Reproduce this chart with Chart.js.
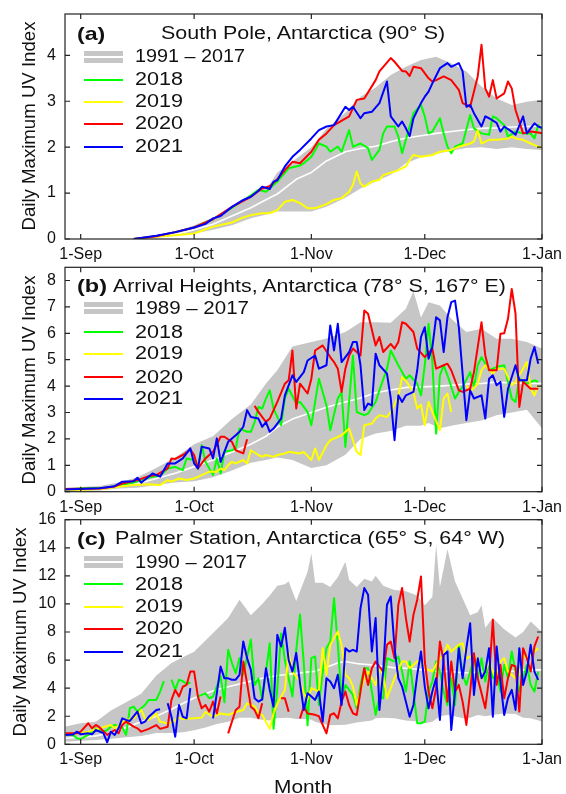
<!DOCTYPE html>
<html lang="en">
<head>
<meta charset="UTF-8">
<title>Daily Maximum UV Index - Antarctica</title>
<script src="https://cdn.jsdelivr.net/npm/chart.js@4.4.1/dist/chart.umd.min.js"></script>
<style>
  html, body { margin: 0; padding: 0; background: #fff; }
  #page { position: relative; width: 566px; height: 794px; overflow: hidden;
          font-family: "Liberation Sans", Arial, Helvetica, sans-serif; color: #111; }
  #page canvas { position: absolute; left: 0; }
  .lbl { position: absolute; white-space: nowrap; transform-origin: 0 50%; }
  .ytitle { position: absolute; white-space: nowrap; font-size: 18px; line-height: 18px; }
  .swatch { position: absolute; }
</style>
</head>
<body>
<div id="page">
  <canvas id="chartA" width="566" height="270" style="top:0"></canvas>
  <canvas id="chartB" width="566" height="258" style="top:262px"></canvas>
  <canvas id="chartC" width="566" height="286" style="top:508px"></canvas>
</div>
<script>
// day 0 = 1 Sep, day 122 = 1 Jan
const monthTicks = [0, 30, 61, 91, 122];
const monthLabels = ['1-Sep', '1-Oct', '1-Nov', '1-Dec', '1-Jan'];
const seriesNames = ['2018', '2019', '2020', '2021'];
const seriesColors = ['#00ff00', '#ffff00', '#ff0000', '#0000ff'];

// (a) South Pole
const spDays = [14, 20, 25, 30, 35, 40, 45, 50, 52, 57, 61, 65, 70, 74, 78, 82, 86, 90, 94, 98, 102, 106, 110, 114, 118, 122];
const spHigh = [0, 0.07, 0.15, 0.3, 0.47, 0.7, 0.9, 1.2, 1.45, 1.75, 2.0, 2.4, 2.75, 3.1, 3.3, 3.57, 3.75, 3.9, 3.97, 3.83, 3.65, 3.32, 3.06, 2.92, 2.99, 3.03];
const spLow = [0, 0.03, 0.07, 0.12, 0.2, 0.3, 0.45, 0.55, 0.6, 0.6, 0.6, 0.7, 0.9, 1.1, 1.25, 1.4, 1.65, 1.78, 1.85, 1.92, 1.98, 2.0, 1.96, 2.0, 1.96, 1.94];
const spMean = [0, 0.05, 0.1, 0.2, 0.32, 0.5, 0.68, 0.9, 0.98, 1.3, 1.45, 1.7, 1.9, 1.97, 2.02, 2.12, 2.2, 2.25, 2.3, 2.34, 2.38, 2.41, 2.42, 2.44, 2.45, 2.46];
const sp2018 = [[14,0],[20,0.06],[25,0.15],[30,0.25],[35,0.43],[40,0.68],[45,0.95],[47,1.07],[49,1.03],[50,1.1],[52,1.25],[55,1.54],[58,1.6],[59,1.65],[61,1.79],[63,2.08],[65,2.01],[66,1.9],[68,2.01],[69,1.9],[71,2.37],[72,2.01],[74,2.08],[76,1.98],[77,1.72],[79,1.94],[80,2.3],[81,2.45],[83,2.45],[84,2.23],[85,1.87],[86,2.16],[88,2.74],[90,2.92],[91,2.67],[92,2.3],[93,2.34],[95,2.63],[96,2.3],[97,2.01],[98,1.87],[99,2.01],[101,2.08],[103,2.7],[104,2.41],[106,2.3],[108,2.27],[109,2.67],[110,2.63],[112,2.48],[113,2.23],[115,2.34],[117,2.3],[119,2.3],[120,2.19],[121,2.48],[122,2.4]];
const sp2019 = [[14,0],[20,0.05],[25,0.08],[30,0.12],[35,0.27],[40,0.36],[43,0.47],[45,0.52],[48,0.56],[50,0.56],[52,0.63],[54,0.81],[56,0.85],[58,0.78],[60,0.67],[62,0.67],[65,0.76],[67,0.85],[69,0.89],[71,1.03],[72,1.18],[73,1.47],[74,1.21],[75,1.14],[77,1.25],[79,1.29],[80,1.39],[83,1.47],[84,1.5],[86,1.58],[87,1.72],[88,1.83],[90,1.79],[93,1.83],[95,1.9],[98,1.94],[100,2.01],[103,2.08],[104,2.12],[105,2.37],[106,2.08],[108,2.16],[110,2.16],[113,2.19],[114,2.23],[115,2.19],[117,2.16],[119,2.08],[121,2.01],[122,2.0]];
const sp2020 = [[14,0],[20,0.06],[25,0.15],[30,0.25],[35,0.43],[40,0.7],[45,0.92],[48,1.1],[50,1.15],[52,1.3],[54,1.5],[56,1.68],[58,1.65],[61,1.9],[63,2.16],[65,2.3],[67,2.48],[71,2.67],[73,3.03],[75,3.06],[78,3.46],[79,3.65],[82,3.94],[83,3.86],[85,3.66],[86,3.65],[87,3.55],[88,3.75],[90,3.72],[92,3.5],[93,3.43],[94,3.46],[96,3.54],[98,3.46],[100,3.25],[101,2.96],[103,2.88],[105,3.54],[106,4.23],[107,3.28],[108,3.1],[109,3.46],[110,3.06],[112,3.17],[113,3.43],[114,3.28],[115,2.81],[117,2.3],[119,2.34],[121,2.32],[122,2.3]];
const sp2021 = [[14,0],[20,0.07],[25,0.15],[30,0.25],[33,0.33],[35,0.45],[37,0.5],[40,0.7],[43,0.85],[45,0.92],[47,1.05],[48,1.14],[50,1.09],[51,1.25],[52,1.28],[54,1.58],[56,1.79],[58,1.94],[61,2.19],[63,2.37],[65,2.45],[67,2.48],[70,2.88],[71,2.81],[72,2.88],[74,2.63],[75,2.74],[77,2.77],[79,2.96],[81,3.43],[82,2.67],[84,2.45],[85,2.56],[86,2.41],[87,2.24],[88,2.63],[90,2.96],[91,3.1],[92,3.21],[93,3.39],[95,3.72],[97,3.83],[98,3.75],[100,3.83],[101,3.65],[102,2.88],[103,2.92],[104,2.74],[106,2.45],[107,2.67],[108,2.63],[110,2.53],[111,2.34],[112,2.45],[114,2.34],[115,2.27],[117,2.67],[118,2.3],[120,2.52],[121,2.45],[122,2.42]];

// (b) Arrival Heights
const ahDays = [-4, 0, 5, 10, 15, 20, 25, 30, 35, 40, 45, 49, 52, 56, 61, 65, 70, 74, 78, 82, 86, 88, 90, 92, 95, 98, 102, 106, 110, 114, 118, 122];
const ahHigh = [0.15, 0.18, 0.22, 0.35, 0.55, 0.9, 1.3, 1.8, 2.1, 2.75, 3.3, 4.1, 4.6, 5.5, 5.67, 5.8, 6.05, 6.42, 6.42, 6.4, 6.93, 7.6, 6.6, 7.18, 7.05, 6.55, 6.05, 6.17, 5.79, 5.79, 5.67, 5.42];
const ahLow = [0.02, 0.03, 0.05, 0.12, 0.15, 0.25, 0.35, 0.4, 0.55, 0.8, 1.1, 1.2, 1.3, 1.2, 0.9, 1.0, 1.4, 2.0, 2.2, 2.3, 2.5, 2.5, 2.5, 2.6, 2.4, 2.5, 2.6, 2.7, 2.9, 3.0, 3.1, 2.4];
const ahMean = [0.08, 0.1, 0.13, 0.2, 0.3, 0.5, 0.7, 0.95, 1.2, 1.5, 1.8, 2.1, 2.45, 2.75, 3.0, 3.2, 3.4, 3.55, 3.75, 3.85, 3.95, 3.96, 3.97, 3.98, 4.0, 4.03, 4.08, 4.1, 4.15, 4.12, 4.1, 4.1];
const ah2018 = [[-4,0.08],[1,0.13],[7,0.15],[14,0.35],[19,0.57],[21,0.6],[23,0.88],[25,0.94],[27,0.82],[28,1.26],[30,1.2],[31,0.88],[32,1.76],[33,1.13],[35,0.63],[36,1.26],[37,0.69],[38,1.51],[40,1.57],[41,1.64],[42,2.39],[44,2.27],[45,2.27],[46,2.64],[47,3.21],[48,3.15],[49,3.53],[50,3.84],[51,3.15],[53,2.52],[54,3.53],[55,3.9],[57,3.34],[58,3.4],[60,3.02],[61,2.52],[63,4.28],[65,3.27],[66,2.33],[68,3.53],[69,3.78],[70,1.7],[72,5.16],[73,3.02],[75,2.9],[76,2.96],[78,3.4],[79,3.84],[81,4.66],[82,5.35],[84,4.79],[86,4.28],[87,4.41],[89,4.09],[90,3.65],[91,4.79],[92,6.36],[93,4.91],[94,2.2],[95,4.41],[96,4.79],[97,4.41],[99,3.53],[100,3.78],[101,3.97],[103,4.53],[104,3.97],[105,4.79],[106,5.1],[108,4.6],[110,4.72],[112,4.79],[114,3.53],[115,3.4],[116,4.28],[118,4.09],[120,4.22],[121,4.16]];
const ah2019 = [[-4,0.05],[5,0.1],[14,0.25],[18,0.28],[21,0.25],[23,0.44],[24,0.38],[26,0.5],[28,0.44],[30,0.5],[32,0.63],[34,0.76],[36,0.76],[37,0.88],[38,0.82],[39,1.01],[40,1.13],[41,1.07],[43,1.2],[44,1.07],[45,1.57],[47,1.39],[48,1.32],[49,1.39],[51,1.32],[52,1.39],[54,1.45],[55,1.51],[58,1.45],[59,1.51],[61,1.2],[62,1.64],[63,1.2],[65,1.76],[66,1.95],[68,2.08],[69,2.14],[71,2.39],[72,1.95],[73,1.51],[74,1.39],[75,2.52],[77,2.58],[78,2.77],[79,2.9],[81,2.83],[82,3.02],[84,3.6],[85,4.34],[86,4.2],[88,3.78],[89,3.15],[90,3.3],[91,2.52],[92,3.4],[93,3.02],[95,2.33],[96,3.53],[97,3.72],[98,3.02],[100,null],[102,4.03],[103,3.78],[105,4.09],[106,4.6],[107,4.79],[109,4.47],[110,4.66],[112,4.66],[114,4.03],[115,4.16],[117,4.66],[118,4.91],[119,3.9],[120,3.65],[121,4.03]];
const ah2020 = [[-4,0.1],[5,0.12],[9,0.2],[11,0.31],[15,0.44],[18,0.59],[20,0.63],[23,0.88],[24,1.26],[25,1.24],[27,1.39],[29,1.6],[30,1.39],[31,0.88],[33,1.26],[34,1.39],[35,1.51],[37,2.08],[38,2.08],[40,1.89],[41,1.57],[43,1.45],[44,1.99],[45,null],[46,3.25],[47,3.02],[49,2.64],[50,2.77],[52,3.4],[54,4.09],[55,4.22],[56,5.35],[57,3.15],[58,4.09],[60,3.72],[61,4.28],[62,5.35],[64,5.54],[66,5.1],[67,4.91],[68,4.66],[69,3.78],[70,4.66],[71,5.16],[72,5.42],[74,5.16],[75,6.86],[76,6.74],[78,5.54],[79,5.86],[80,5.29],[82,5.6],[83,5.42],[84,5.67],[85,6.42],[86,6.36],[88,6.05],[89,5.42],[91,5.1],[93,5.42],[94,4.66],[96,4.79],[97,4.85],[98,4.6],[100,3.84],[101,3.78],[103,3.9],[104,4.53],[106,6.42],[107,5.16],[108,4.6],[110,4.6],[111,5.98],[112,6.0],[113,6.55],[114,7.68],[115,6.74],[116,3.21],[117,4.16],[119,3.9],[121,3.9]];
const ah2021 = [[-4,0.08],[5,0.13],[9,0.21],[11,0.38],[14,0.4],[15,0.53],[16,0.34],[19,0.69],[21,0.57],[23,1.07],[25,1.07],[27,1.26],[29,1.64],[30,1.07],[31,0.88],[32,1.7],[34,1.64],[35,1.26],[36,2.02],[37,1.13],[39,1.89],[41,2.14],[42,2.27],[43,2.46],[44,3.09],[45,2.83],[47,2.77],[48,2.46],[49,2.64],[50,2.27],[51,2.39],[53,2.77],[54,3.65],[56,4.41],[57,4.16],[59,4.53],[60,4.97],[62,5.16],[63,4.66],[65,4.79],[66,6.3],[67,5.35],[68,6.36],[69,4.91],[71,5.29],[72,5.67],[73,5.67],[74,4.79],[75,3.09],[76,3.34],[77,3.27],[78,5.23],[79,4.79],[81,4.47],[82,3.53],[83,1.95],[84,3.65],[85,3.4],[86,3.65],[88,3.78],[89,4.6],[90,5.86],[91,6.23],[92,5.04],[93,5.48],[94,6.61],[95,6.49],[96,5.29],[97,6.61],[98,7.18],[99,7.24],[100,6.23],[101,4.47],[102,2.71],[103,3.84],[104,3.53],[106,3.65],[107,2.77],[108,4.28],[109,4.41],[110,4.03],[111,4.16],[112,2.83],[113,3.9],[115,4.79],[116,4.22],[118,4.22],[119,5.04],[120,5.48],[121,4.85]];

// (c) Palmer Station
const psDays = [-4, 0, 4, 8, 12, 16, 20, 24, 27, 30, 33, 36, 39, 42, 45, 48, 50, 52, 54, 55, 57, 60, 61, 62, 64, 66, 68, 70, 71, 73, 75, 77, 78, 80, 83, 86, 89, 91, 93, 94, 95, 97, 99, 101, 103, 105, 106, 107, 109, 112, 115, 117, 119, 122];
const psHigh = [1.26, 1.5, 1.6, 2.4, 3.0, 3.6, 4.9, 5.8, 6.2, 6.6, 7.4, 8.2, 9.0, 10.3, 9.2, 10.0, 10.6, 11.3, 11.4, 11.6, 10.2, 12.3, 13.6, 11.5, 11.5, 11.2, 11.9, 13.0, 11.7, 11.2, 11.8, 11.6, 12.0, 11.3, 11.0, 10.9, 10.6, 9.9, 10.5, 14.2, 11.2, 13.9, 11.6, 10.4, 9.2, 9.4, 9.9, 8.3, 9.0, 8.2, 7.6, 8.0, 8.75, 8.0];
const psLow = [0.19, 0.25, 0.3, 0.4, 0.5, 0.6, 0.8, 0.8, 0.85, 1.0, 1.2, 1.45, 1.6, 1.9, 1.9, 1.75, 1.7, 1.85, 1.9, 1.9, 1.8, 1.8, 1.75, 1.6, 1.45, 1.35, 1.38, 1.4, 1.45, 1.55, 1.62, 1.7, 1.85, 1.9, 1.85, 1.7, 1.62, 1.5, 1.6, 1.8, 2.0, 2.09, 2.0, 1.85, 1.9, 2.09, 2.05, 2.0, 2.09, 2.2, 2.15, 1.9, 1.85, 1.62];
const psMean = [0.43, 0.5, 0.6, 0.8, 1.2, 1.6, 2.0, 2.5, 2.9, 3.3, 3.6, 3.9, 4.1, 4.3, 4.5, 4.7, 4.8, 4.9, 4.95, 5.0, 5.05, 5.15, 5.18, 5.2, 5.4, 5.6, 5.8, 5.9, 5.85, 5.75, 5.7, 5.66, 5.6, 5.55, 5.45, 5.42, 5.35, 5.3, 5.25, 5.2, 5.18, 5.2, 5.15, 5.1, 5.1, 5.15, 5.18, 5.2, 5.2, 5.18, 5.22, 5.3, 5.3, 5.3];
const ps2018 = [[-4,0.67],[-2,0.67],[-1,0.43],[0,0.38],[2,0.67],[3,0.9],[4,1.14],[6,0.9],[7,1.02],[8,1.26],[9,1.38],[11,1.2],[12,0.67],[13,2.57],[14,2.69],[15,2.33],[16,2.57],[17,2.8],[18,3.16],[20,3.16],[21,3.75],[22,4.5],[23,null],[24,4.6],[25,3.9],[26,4.6],[27,4.5],[28,4.3],[29,4.4],[30,null],[31,3.4],[33,3.63],[34,3.28],[35,3.4],[37,4.84],[38,3.0],[39,6.73],[40,5.78],[41,5.06],[42,6.14],[43,4.95],[45,7.46],[46,4.23],[47,4.7],[48,3.16],[50,7.2],[51,1.1],[52,4.0],[53,7.9],[54,6.0],[56,3.4],[57,6.7],[58,9.24],[59,5.78],[60,1.35],[61,6.14],[62,6.26],[63,2.8],[64,5.18],[65,6.85],[66,7.32],[67,10.41],[68,7.09],[69,3.16],[70,4.23],[72,3.52],[73,2.57],[74,4.23],[75,5.42],[76,5.42],[77,3.76],[78,2.09],[79,3.4],[80,3.28],[81,6.13],[83,5.9],[84,6.25],[85,5.18],[86,3.76],[87,5.9],[88,3.76],[89,1.5],[90,1.5],[91,1.62],[92,3.76],[93,4.47],[94,5.9],[95,5.18],[96,3.76],[97,2.8],[98,4.71],[99,2.8],[100,7.09],[101,4.95],[102,4.23],[104,6.13],[105,4.71],[106,6.13],[107,4.47],[108,5.9],[109,4.71],[110,5.18],[111,3.76],[112,5.66],[113,4.71],[114,6.61],[116,3.76],[117,4.71],[118,5.66],[119,4.23],[120,3.76],[121,5.18]];
const ps2019 = [[-4,0.67],[2,0.9],[5,1.14],[8,1.38],[9,1.14],[12,1.74],[14,1.85],[16,2.45],[17,1.85],[18,1.73],[20,2.2],[21,1.6],[23,1.49],[24,1.55],[26,1.9],[27,1.8],[30,1.85],[32,1.9],[33,2.3],[35,1.96],[37,2.2],[39,2.1],[41,2.3],[43,2.44],[44,2.92],[46,2.7],[47,2.2],[48,2.1],[50,1.1],[51,2.2],[52,2.9],[54,3.87],[55,6.5],[56,5.18],[58,4.47],[59,3.63],[60,3.2],[61,4.0],[63,3.76],[64,6.85],[65,4.95],[66,7.09],[68,8.04],[69,7.09],[70,4.95],[71,4.71],[72,4.11],[73,2.8],[74,3.76],[75,4.71],[76,5.18],[78,4.23],[79,5.42],[80,4.95],[81,3.28],[82,4.0],[83,4.71],[85,5.9],[86,5.9],[87,5.42],[89,5.9],[90,6.13],[91,5.42],[93,5.18],[94,5.66],[95,6.13],[96,6.37],[97,7.09],[98,6.61],[100,7.09],[101,7.2],[102,6.13],[104,6.37],[105,5.9],[106,4.71],[107,5.18],[108,5.9],[110,4.47],[111,5.9],[112,6.13],[113,5.18],[115,4.71],[116,4.95],[117,6.37],[118,6.13],[120,6.61],[121,6.85]];
const ps2020 = [[-4,0.78],[-1,0.78],[0,0.9],[2,1.5],[3,1.14],[4,1.38],[5,1.2],[7,0.67],[9,1.02],[10,0.78],[11,1.38],[12,1.62],[14,1.26],[15,1.14],[16,0.9],[18,1.1],[20,1.37],[21,1.1],[23,1.25],[24,3.16],[25,3.87],[26,3.4],[27,4.1],[28,4.23],[29,5.18],[30,5.18],[31,3.4],[32,2.56],[33,2.8],[34,2.32],[35,3.04],[36,2.2],[37,3.4],[38,null],[39,0.78],[41,2.44],[42,2.68],[43,5.9],[44,4.35],[45,2.68],[46,2.44],[47,1.85],[48,2.92],[49,null],[53,3.28],[54,3.28],[55,2.32],[56,null],[58,1.85],[59,2.68],[60,2.2],[62,2.1],[63,2.0],[65,0.78],[66,2.09],[67,2.21],[68,1.85],[69,3.04],[70,3.76],[71,2.8],[72,2.21],[73,2.09],[74,3.76],[75,5.42],[76,4.23],[77,5.42],[78,5.9],[80,5.18],[81,7.09],[82,7.32],[83,6.13],[84,9.94],[85,11.13],[86,8.99],[87,7.32],[88,9.22],[89,10.3],[90,11.96],[91,5.9],[92,3.76],[93,2.57],[94,4.0],[95,7.32],[96,5.9],[97,3.04],[98,5.9],[99,3.76],[100,4.23],[101,3.04],[102,1.38],[103,3.76],[104,6.49],[105,4.71],[107,2.57],[108,4.71],[109,8.87],[110,4.23],[111,5.66],[112,3.28],[113,4.71],[114,5.66],[115,5.54],[116,2.33],[117,6.85],[118,6.13],[119,5.18],[120,6.97],[121,7.68]];
const ps2021 = [[-4,0.67],[-2,0.7],[-1,0.9],[0,0.71],[2,0.78],[3,0.71],[4,1.02],[6,0.8],[7,0.14],[8,0.9],[9,0.67],[10,1.14],[11,1.85],[12,1.74],[13,1.66],[15,2.33],[16,1.5],[17,1.62],[18,1.96],[20,2.44],[21,2.5],[22,null],[23,2.92],[24,1.96],[25,0.54],[26,2.8],[27,1.96],[28,1.85],[29,4.0],[30,null],[35,1.85],[36,3.63],[37,5.54],[38,4.7],[39,4.7],[40,4.6],[41,4.6],[42,4.95],[43,7.33],[44,6.14],[45,5.3],[46,3.28],[47,3.04],[48,3.2],[49,5.42],[50,3.87],[51,2.68],[52,7.8],[53,6.97],[54,8.3],[55,6.0],[56,5.18],[57,6.5],[58,4.35],[59,2.44],[60,3.63],[61,3.4],[62,3.16],[63,3.76],[64,1.62],[65,4.71],[66,4.47],[67,4.0],[68,4.95],[69,2.8],[70,6.85],[71,6.61],[72,6.73],[73,6.61],[74,9.7],[75,11.13],[76,10.65],[77,6.61],[78,8.99],[79,2.45],[80,5.18],[81,9.94],[82,10.53],[83,6.85],[84,4.71],[85,4.11],[86,3.04],[87,1.97],[88,2.8],[89,4.95],[90,6.61],[91,4.11],[92,2.57],[93,3.76],[94,4.71],[95,1.74],[96,6.37],[97,6.61],[98,1.02],[99,3.76],[100,6.85],[101,4.71],[102,6.85],[103,8.63],[104,3.52],[105,6.13],[106,4.71],[107,5.18],[108,6.85],[109,1.97],[110,6.97],[111,4.47],[112,2.09],[113,3.28],[114,3.88],[115,2.45],[116,6.85],[117,4.23],[118,5.18],[119,7.09],[120,5.18],[121,4.59]];

const FONT = '"Liberation Sans", Arial, Helvetica, sans-serif';
const BAND = '#c6c6c6';

function xy(days, vals) { return days.map((d, i) => ({ x: d, y: vals[i] })); }
function pairs(list) { return list.map(([d, v]) => ({ x: d, y: v })); }

// box round the plot with short inward ticks on all four sides
const frame = {
  id: 'frame',
  afterDatasetsDraw(chart) {
    const { ctx, chartArea: a, scales } = chart;
    ctx.save();
    ctx.strokeStyle = '#222';
    ctx.lineWidth = 1.2;
    ctx.strokeRect(a.left, a.top, a.right - a.left, a.bottom - a.top);
    ctx.beginPath();
    scales.x.ticks.forEach(t => {
      const px = scales.x.getPixelForValue(t.value);
      ctx.moveTo(px, a.bottom); ctx.lineTo(px, a.bottom - 5);
      ctx.moveTo(px, a.top); ctx.lineTo(px, a.top + 5);
    });
    scales.y.ticks.forEach(t => {
      const py = scales.y.getPixelForValue(t.value);
      ctx.moveTo(a.left, py); ctx.lineTo(a.left + 5, py);
      ctx.moveTo(a.right, py); ctx.lineTo(a.right - 5, py);
    });
    ctx.stroke();
    ctx.restore();
  }
};

function buildPanel(id, p) {
  const years = [p.s2018, p.s2019, p.s2020, p.s2021].map((s, i) => ({
    label: seriesNames[i], data: pairs(s), borderColor: seriesColors[i],
    borderWidth: 2, fill: false, order: 4 - i
  }));
  return new Chart(document.getElementById(id), {
    type: 'line',
    data: {
      datasets: [
        { label: 'max', data: xy(p.days, p.high), fill: '+1', backgroundColor: BAND,
          borderColor: 'rgba(0,0,0,0)', borderWidth: 0, order: 10 },
        { label: 'min', data: xy(p.days, p.low), fill: false,
          borderColor: 'rgba(0,0,0,0)', borderWidth: 0, order: 10 },
        { label: 'mean', data: xy(p.days, p.mean), fill: false,
          borderColor: '#ffffff', borderWidth: 1.6, order: 9 },
        ...years
      ]
    },
    options: {
      responsive: false,
      animation: false,
      events: [],
      elements: { point: { radius: 0 }, line: { tension: 0, borderJoinStyle: 'round' } },
      layout: { padding: { top: p.padTop, right: 24, left: 0, bottom: 0 } },
      plugins: { legend: { display: false }, tooltip: { enabled: false } },
      scales: {
        x: {
          type: 'linear', min: -4.15, max: 122,
          grid: { display: false, drawTicks: false },
          border: { display: false },
          afterBuildTicks: ax => { ax.ticks = monthTicks.map(v => ({ value: v })); },
          afterFit: ax => { ax.height = p.xAxisH; ax.paddingLeft = 0; ax.paddingRight = 0; },
          ticks: {
            autoSkip: false, maxRotation: 0, padding: 6, color: '#111',
            font: { family: FONT, size: 16 },
            callback: v => monthLabels[monthTicks.indexOf(v)]
          }
        },
        y: {
          min: 0, max: p.yMax,
          grid: { display: false, drawTicks: false },
          border: { display: false },
          afterBuildTicks: ax => {
            const list = [];
            for (let v = 0; v <= p.yMax + 1e-9; v += p.yStep) list.push({ value: v });
            ax.ticks = list;
          },
          afterFit: ax => { ax.width = 65; ax.paddingTop = 0; ax.paddingBottom = 0; },
          ticks: { padding: 9, color: '#111', font: { family: FONT, size: 16 } }
        }
      }
    },
    plugins: [frame]
  });
}

buildPanel('chartA', { days: spDays, high: spHigh, low: spLow, mean: spMean,
  s2018: sp2018, s2019: sp2019, s2020: sp2020, s2021: sp2021,
  yMax: 4.9, yStep: 1, padTop: 14, xAxisH: 31 });
buildPanel('chartB', { days: ahDays, high: ahHigh, low: ahLow, mean: ahMean,
  s2018: ah2018, s2019: ah2019, s2020: ah2020, s2021: ah2021,
  yMax: 8.5, yStep: 1, padTop: 5.3, xAxisH: 28.3 });
buildPanel('chartC', { days: psDays, high: psHigh, low: psLow, mean: psMean,
  s2018: ps2018, s2019: ps2019, s2020: ps2020, s2021: ps2021,
  yMax: 16, yStep: 2, padTop: 11.7, xAxisH: 49.7 });

// ---- text and legends as HTML on top of the canvases ----
const page = document.getElementById('page');

function addText(text, left, cy, width, size, bold) {
  const el = document.createElement('div');
  el.className = 'lbl';
  el.textContent = text;
  el.style.left = left + 'px';
  el.style.top = (cy - size / 2) + 'px';
  el.style.fontSize = size + 'px';
  el.style.lineHeight = size + 'px';
  if (bold) el.style.fontWeight = 'bold';
  page.appendChild(el);
  const w = el.getBoundingClientRect().width;
  el.style.transform = 'scaleX(' + (width / w).toFixed(3) + ')';
}

function addYTitle(cx, cy) {
  const el = document.createElement('div');
  el.className = 'ytitle';
  el.textContent = 'Daily Maximum UV Index';
  page.appendChild(el);
  const w = el.getBoundingClientRect().width;
  el.style.left = (cx - w / 2) + 'px';
  el.style.top = (cy - 9) + 'px';
  el.style.transform = 'rotate(-90deg) scaleX(' + (209 / w).toFixed(3) + ')';
}

function addSwatch(cy, color, band) {
  const el = document.createElement('div');
  el.className = 'swatch';
  el.style.left = '84px';
  el.style.width = '39px';
  if (band) {
    el.style.top = (cy - 6) + 'px';
    el.style.height = '12px';
    el.style.background = BAND;
    const mid = document.createElement('div');
    mid.style.cssText = 'position:absolute;left:0;right:0;top:5px;height:2px;background:#fff';
    el.appendChild(mid);
  } else {
    el.style.top = (cy - 1) + 'px';
    el.style.height = '2px';
    el.style.background = color;
  }
  page.appendChild(el);
}

const panelText = [
  { tag: '(a)', tagW: 28.3, title: 'South Pole, Antarctica (90° S)', titleX: 161, titleW: 284, cy: 33,
    period: '1991 – 2017', periodW: 110, rows: [56.7, 79.7, 101.5, 124, 146.7], yTitle: [29, 126] },
  { tag: '(b)', tagW: 30, title: 'Arrival Heights, Antarctica (78° S, 167° E)', titleX: 113.3, titleW: 393, cy: 285.7,
    period: '1989 – 2017', periodW: 114, rows: [308.3, 332.3, 354, 377.3, 399], yTitle: [29, 380] },
  { tag: '(c)', tagW: 28.7, title: 'Palmer Station, Antarctica (65° S, 64° W)', titleX: 115, titleW: 390, cy: 538.3,
    period: '1990 – 2017', periodW: 112, rows: [562.3, 584.3, 606.7, 629, 651.7], yTitle: [20.5, 631.7] }
];

panelText.forEach(t => {
  addText(t.tag, 77, t.cy, t.tagW, 19, true);
  addText(t.title, t.titleX, t.cy, t.titleW, 18, false);
  addSwatch(t.rows[0], BAND, true);
  addText(t.period, 135, t.rows[0], t.periodW, 17.5, false);
  seriesNames.forEach((name, i) => {
    addSwatch(t.rows[i + 1], seriesColors[i], false);
    addText(name, 135, t.rows[i + 1], 48, 17.5, false);
  });
  addYTitle(t.yTitle[0], t.yTitle[1]);
});

addText('Month', 274, 786.7, 58, 18, false);
</script>
</body>
</html>
